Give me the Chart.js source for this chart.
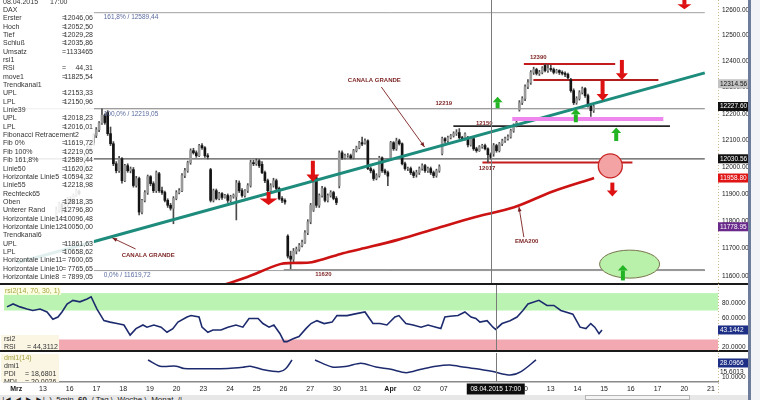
<!DOCTYPE html>
<html>
<head>
<meta charset="utf-8">
<script src="https://cdn.jsdelivr.net/npm/chart.js@4.4.1/dist/chart.umd.min.js"></script>
<style>
  html, body { margin: 0; padding: 0; background: #fff; }
  body { width: 760px; height: 400px; position: relative; overflow: hidden; font-family: "Liberation Sans", Arial, sans-serif; }
  canvas { position: absolute; left: 0; }
  #info { position: absolute; left: 0; top: 0; width: 94px; height: 283px; background: rgba(255,255,255,0.87); overflow: hidden; font-size: 7px; color: #333; }
  .row { position: absolute; left: 0; width: 94px; height: 8px; line-height: 8px; white-space: nowrap; }
  .row .n { position: absolute; left: 3px; }
  .row .e { position: absolute; left: 62px; }
  .row .v { position: absolute; right: 1px; }
  .tag { position: absolute; font-size: 7px; line-height: 8px; white-space: nowrap; color: #333; }
  .olive { color: #a3a340; }
  .cream { position: absolute; background: #fbf6e4; overflow: hidden; }
  #tabs { position: absolute; left: 0; top: 395px; width: 748px; height: 5px; background: #e7e7e7; overflow: hidden; font-size: 8px; line-height: 9px; color: #222; white-space: pre; }
  #scroll { position: absolute; left: 585px; top: 395px; width: 105px; height: 5px; background: #f4f4f4; border: 1px solid #b5b5b5; box-sizing: border-box; }
  #edge { position: absolute; left: 748px; top: 0; width: 3px; height: 400px; background: #6d7c9a; }
  #side { position: absolute; left: 751px; top: 0; width: 9px; height: 400px; background: #f1f3f7; }
</style>
</head>
<body>
<canvas id="main" width="760" height="284" style="top:0"></canvas>
<canvas id="rsi" width="760" height="68" style="top:284px"></canvas>
<canvas id="dmi" width="760" height="42" style="top:353px"></canvas>
<div id="info"></div>
<div class="tag olive" style="left:4px;top:287px;background:rgba(255,255,225,0.85);padding:0 1px">rsi2(14, 70, 30, 1)</div>
<div class="cream" style="left:1px;top:335px;width:58px;height:15px">
  <div class="tag" style="left:3px;top:0">rsi2</div>
  <div class="tag" style="left:3px;top:8px">RSI</div><div class="tag" style="left:26px;top:8px">= 44,3112</div>
</div>
<div class="cream" style="left:1px;top:354px;width:58px;height:28px">
  <div class="tag olive" style="left:3px;top:0">dmi1(14)</div>
  <div class="tag" style="left:3px;top:8px">dmi1</div>
  <div class="tag" style="left:3px;top:16px">PDI</div><div class="tag" style="left:24px;top:16px">= 18,6801</div>
  <div class="tag" style="left:3px;top:24px">MDI</div><div class="tag" style="left:24px;top:24px">= 20,0026</div>
</div>
<div id="tabs"> |◄ ◄ ► ►|  )  5min  <b>60</b>  / Tag \  Woche \  Monat  /|</div>
<div id="scroll"></div>
<div id="edge"></div>
<div id="side"></div>
<script>
Chart.defaults.font.family = '"Liberation Sans", Arial, sans-serif';
Chart.defaults.animation = false;

// ---- data ----
const dayLabels = ['Mrz','13','16','17','18','19','20','23','24','25','26','27','30','31','Apr','02','07','08','09','10','13','14','15','16','17','20','21'];
const candleDays = [1,2,3,4,5,6,7,8,9,10,11,12,13,14,15,16,17,18,19,20,21];
const priceTicks = [11600,11700,11800,11900,12000,12100,12200,12300,12400,12500,12600];

const opens = [
  11815,11840,11862,11835,11858,11880,11872,11895,11910,
  11960,11995,12040,12072,12090,12118,12140,12165,12195,
  12205,12125,12087,12012,11986,12031,11949,12005,11986,
  11990,11931,11957,11833,11876,11905,11964,11938,11912,
  11975,11912,11905,11876,11858,11847,11883,11905,11912,
  11968,11986,12016,12061,12053,12042,12080,12072,12042,
  11990,11876,11912,11883,11901,11887,11894,11876,11890,
  11890,11940,11912,11894,11912,11931,12016,12012,12023,
  12010,11979,11949,11912,11931,11949,11920,11883,11876,
  11745,11672,11661,11690,11697,11711,11722,11757,11797,
  11840,11960,11858,11894,11920,11876,11894,11905,11883,
  11930,12053,12034,12042,12042,12034,12061,12072,12091,
  12090,12098,11994,11986,11957,11968,12034,11986,11979,
  12030,12091,12068,12098,12087,12012,11994,11994,11979,
  11972,11979,11994,12005,11986,11994,11979,11968,11986,
  12050,12106,12098,12110,12117,12125,12129,12110,12106,
  12110,12083,12106,12068,12061,12076,12080,12068,12046.06,
  12050,12080,12061,12087,12098,12106,12113,12136,12155,
  12215,12242,12258,12303,12319,12358,12369,12354,12358,
  12385,12365,12373,12369,12358,12365,12358,12354,12350,
  12330,12288,12242,12258,12281,12296,12269,12231,12212
];
const highs = [
  11852,11870,11866,11862,11888,11890,11900,11918,11915,
  12005,12048,12080,12098,12125,12148,12170,12219,12200,
  12212,12150,12095,12020,12040,12035,12010,12012,12000,
  11998,11965,11962,11880,11912,11970,11968,11945,11985,
  11980,11925,11910,11882,11865,11890,11912,11920,11975,
  11995,12022,12068,12070,12060,12085,12088,12076,12050,
  11995,11918,11918,11906,11905,11898,11900,11895,11900,
  11950,11948,11920,11916,11938,12025,12025,12030,12028,
  12020,11985,11955,11938,11958,11955,11925,11890,11882,
  11750,11690,11700,11705,11718,11730,11765,11805,11865,
  11965,11966,11900,11928,11925,11900,11912,11910,11890,
  12060,12060,12048,12050,12048,12066,12078,12096,12112,
  12105,12102,12000,11992,11975,12040,12038,11992,11985,
  12096,12095,12108,12104,12090,12018,12000,12000,11985,
  11988,12000,12012,12010,12000,12000,11985,11992,12008,
  12112,12110,12116,12122,12132,12140,12144,12115,12128,
  12115,12110,12112,12074,12080,12085,12086,12072,12052.5,
  12088,12085,12092,12104,12112,12120,12142,12162,12180,
  12250,12265,12310,12330,12365,12378,12374,12366,12380,
  12390,12388,12386,12375,12370,12368,12364,12360,12355,
  12335,12295,12265,12288,12302,12300,12275,12240,12232
];
const lows = [
  11800,11832,11828,11830,11850,11865,11868,11890,11896,
  11950,11985,12030,12062,12082,12110,12132,12160,12160,
  12118,12080,12005,11978,11980,11940,11945,11980,11978,
  11925,11925,11822,11826,11870,11898,11930,11905,11905,
  11905,11898,11870,11850,11840,11790,11878,11900,11908,
  11960,11980,12010,12048,12036,12038,12066,12036,12030,
  11870,11870,11878,11878,11880,11884,11868,11870,11884,
  11804,11905,11888,11888,11905,11925,12005,12006,11998,
  11975,11942,11905,11905,11925,11915,11878,11868,11862,
  11665,11626,11650,11680,11690,11705,11718,11750,11790,
  11835,11850,11850,11888,11870,11870,11888,11878,11860,
  11922,12028,12030,12036,12030,12030,12056,12068,12080,
  12085,11990,11978,11950,11952,11962,11980,11972,11930,
  12025,12062,12062,12082,12008,11988,11986,11972,11960,
  11962,11972,11988,11980,11980,11972,11960,11962,11980,
  12045,12090,12092,12105,12112,12118,12105,12098,12100,
  12075,12078,12062,12055,12058,12070,12064,12017,12029.28,
  12040,12055,12056,12080,12092,12100,12108,12130,12150,
  12210,12235,12250,12296,12312,12350,12348,12346,12352,
  12360,12358,12362,12352,12355,12350,12348,12342,12332,
  12282,12235,12236,12252,12275,12262,12225,12190,12205
];
const closes = [
  11840,11862,11835,11858,11880,11872,11895,11910,11901,
  11995,12040,12072,12090,12118,12140,12165,12195,12167,
  12125,12087,12012,11986,12031,11949,12005,11986,11993,
  11931,11957,11833,11876,11905,11964,11938,11912,11979,
  11912,11905,11876,11858,11847,11883,11905,11912,11968,
  11986,12016,12061,12053,12042,12080,12072,12042,12038,
  11876,11912,11883,11901,11887,11894,11876,11890,11895,
  11940,11912,11894,11912,11931,12016,12012,12023,12005,
  11979,11949,11912,11931,11949,11920,11883,11876,11870,
  11672,11661,11690,11697,11711,11722,11757,11797,11858,
  11960,11858,11894,11920,11876,11894,11905,11883,11868,
  12053,12034,12042,12042,12034,12061,12072,12091,12086,
  12098,11994,11986,11957,11968,12034,11986,11979,11966,
  12091,12068,12098,12087,12012,11994,11994,11979,11968,
  11979,11994,12005,11986,11994,11979,11968,11986,12001,
  12106,12098,12110,12117,12125,12129,12110,12106,12123,
  12083,12106,12068,12061,12076,12080,12068,12046.06,12035.86,
  12080,12061,12087,12098,12106,12113,12136,12155,12167,
  12242,12258,12303,12319,12358,12369,12354,12358,12375,
  12365,12373,12369,12358,12365,12358,12354,12350,12338,
  12288,12242,12258,12281,12296,12269,12231,12212,12227.6
];

// EMA200 (day index, value)
const emaT = [7.06, 8.37, 9.76, 10.24, 10.99, 12.11, 12.86, 14.36, 15.86, 17.35, 18.85, 20.35, 21.96];
const emaV = [11553, 11593, 11643, 11647, 11650, 11680, 11697, 11732, 11774, 11815, 11851, 11909, 11959];

// trend channel "CANALA GRANDE" ends
const trendT = [-0.46, 26.262];
const trendV = [11648, 12356];

// horizontal levels
const levelPrice = [12589.44, 12219.05, 12030.56, 11619.72, 11620.62, 12153.33, 12017.12, 12390, 12329, 12180];
const levelFrom  = [1.86, -0.46, -0.46, 1.86, 9.9, 16.49, 17.62, 19.23, 19.6, 18.78];
const levelTo    = [26.262, 26.262, 26.262, 26.262, 26.262, 24.91, 23.45, 22.78, 24.46, 24.65];

const fibPct  = ['0,0%', '100,0%', '161,8%'];
const fibVals = [11619.72, 12219.05, 12589.44];

// RSI(14)
const rsiT = [-0.35,-0.12,0.14,0.40,0.62,0.89,1.15,1.37,1.56,1.71,1.90,2.12,2.38,2.65,2.80,3.02,3.28,3.51,3.77,4.03,4.26,4.48,4.74,4.89,5.15,5.42,5.64,5.86,6.05,6.39,6.54,6.84,6.95,7.17,7.36,7.66,7.92,8.22,8.48,8.71,9.05,9.23,9.46,9.64,9.87,10.02,10.13,10.36,10.58,10.84,11.03,11.25,11.52,11.82,12.00,12.38,12.64,13.05,13.35,13.61,13.87,14.17,14.32,14.58,14.85,15.15,15.41,15.71,15.89,16.04,16.23,16.53,16.79,17.02,17.20,17.35,17.62,17.84,17.94,18.18,18.48,18.74,18.96,19.15,19.56,19.86,20.12,20.38,20.83,21.10,21.32,21.50,21.65,21.81,21.92];
const rsiV = [75,79,75,72,70,72,68,58,61,68,79,84,82,86,89,72,56,54,52,50,36,45,50,47,50,47,40,45,54,61,63,61,47,40,43,43,47,50,47,59,59,52,47,50,38,27,27,31,34,45,52,56,52,54,63,63,65,68,52,52,50,61,63,52,50,47,50,47,45,61,62,63,68,61,59,54,56,47,44,52,56,61,70,79,84,77,77,70,65,47,45,52,47,38,43.14];
const rsiBands = [70, 94, 30];

// DMI
const dmiT = [4.93,5.38,5.98,6.28,7.92,8.48,8.75,9.31,9.87,10.09,10.32,10.75,11.18,11.82,12.38,12.90,13.46,14.02,14.59,15.15,15.71,16.23,16.79,17.35,17.84,18.48,18.89,19.45];
const dmiV = [32,24,24,21,21,22.5,24,19,17,21,32,null,32,23,24,27.7,23,20,15.6,20,24,25.5,22.5,20,17,12.6,17,32];

// right axis value markers
const mainMarks = [12314.56, 12227.60, 12030.56, 11958.80, 11778.95];
const rsiMarks = [43.1442];
const dmiMarks = [28.0966, 15.6013];

// drawn annotations (day index, price)
const arrowT = [9.31, 11.03, 23.04, 22.29, 22.67, 25.47, 18.21, 21.25, 22.82, 23.08];
const arrowP = [11859, 11945, 12329, 12250, 11890, 12603, 12265, 12219, 12148, 11640];
const arrowUp = [false, false, false, false, false, false, true, true, true, true];
const circleT = 22.59, circleP = 12004;
const ellipseT = 23.34, ellipseP = 11643;
const noteText = ['CANALA GRANDE', 'CANALA GRANDE', '12219', '12150', '12017', '12390', '11620', 'EMA200'];
const noteT = [13.42, 4.63, 16.12, 17.69, 17.80, 19.79, 11.44, 19.34];
const noteP = [12329, 11675, 12238, 12164, 11994, 12417, 11607, 11725];
const pointerFrom = [[13.69, 12302], [4.14, 11698], [19.23, 11741]];
const pointerTo = [[15.37, 12075], [3.24, 11738], [19.04, 11852]];

const infoRows = [['DAX',''],['Erster','12046,06'],['Hoch','12052,50'],['Tief','12029,28'],['Schluß','12035,86'],['Umsatz','1133465'],['rsi1',''],['RSI','44,31'],['move1','11825,54'],['Trendkanal1',''],['UPL','12153,33'],['LPL','12150,96'],['Linie39',''],['UPL','12018,23'],['LPL','12016,01'],['Fibonacci Retracement2',''],['Fib 0%','11619,72'],['Fib 100%','12219,05'],['Fib 161,8%','12589,44'],['Linie50','11620,62'],['Horizontale Linie5','10594,32'],['Linie55','12218,98'],['Rechteck65',''],['Oben','12818,35'],['Unterer Rand','12796,80'],['Horizontale Linie14','10096,48'],['Horizontale Linie12','10050,00'],['Trendkanal6',''],['UPL','11861,63'],['LPL','10658,62'],['Horizontale Linie11','7600,65'],['Horizontale Linie10','7765,65'],['Horizontale Linie8','7899,05']];

// ---- styles ----
const X_MIN = -0.46, X_MAX = 26.262;
const crossT = 17 + 8.5 / 9;
const FONT = '"Liberation Sans", Arial, sans-serif';
const levelColor = ['#a0a0a0', '#7d7d7d', '#555555', '#a0a0a0', '#333333', '#262626', '#c41c1c', '#c41c1c', '#b51d1d', '#ee86ee'];
const levelWidth = [1, 1.2, 1.2, 1, 1.5, 1.6, 2, 2, 2, 4];
const mainMarkBg = ['#c4c4c4', '#111111', '#111111', '#e01414', '#6a2a8c'];
const mainMarkFg = ['#111111', '#ffffff', '#ffffff', '#ffffff', '#ffffff'];
const arrowLen = [13, 21, 20, 20, 14, 10, 11, 13, 13, 15];
const arrowHead = [18, 13, 12, 12, 11, 14, 10, 10, 10, 10];

// info box rows
const info = document.getElementById('info');
const rowH = 8.345;
const addRow = (i, html) => {
  const d = document.createElement('div');
  d.className = 'row';
  d.style.top = (1.6 + i * rowH - 4) + 'px';
  d.innerHTML = html;
  info.appendChild(d);
};
addRow(0, '<span class="n">08.04.2015</span><span class="n" style="left:50px">17:00</span>');
infoRows.forEach((r, i) => {
  addRow(i + 1, '<span class="n">' + r[0] + '</span>' + (r[1] ? '<span class="e">=</span><span class="v">' + r[1] + '</span>' : ''));
});

// ---- helpers ----
const de = v => v.toFixed(2).replace('.', ',');

function xScale(show) {
  return {
    type: 'linear', min: X_MIN, max: X_MAX, display: show,
    grid: { display: false, drawTicks: false },
    border: { display: true, color: '#8a8a8a', width: 1.5 },
    afterBuildTicks: s => { s.ticks = dayLabels.map((_, i) => ({ value: i })); },
    afterFit: s => { s.height = show ? 13 : 0; s.paddingLeft = 0; s.paddingRight = 0; },
    ticks: {
      autoSkip: false, maxRotation: 0, padding: 3, color: '#1a1a1a',
      font: c => ({ size: 7, weight: /[a-z]/i.test(dayLabels[c.index] || '') ? 'bold' : 'normal' }),
      callback: v => dayLabels[v]
    }
  };
}

function yScale(type, min, max, ticks, digits) {
  return {
    type, position: 'right', min, max,
    grid: { display: false, drawTicks: false },
    border: { display: false },
    afterBuildTicks: s => { s.ticks = ticks.map(v => ({ value: v })); },
    afterFit: s => { s.width = 42; s.paddingTop = 0; s.paddingBottom = 0; },
    ticks: { autoSkip: false, padding: 4, color: '#1a1a1a', font: { size: 6.5 }, callback: v => Number(v).toFixed(digits) }
  };
}

function frame(marks, bgs, fgs, digits) {
  return {
    id: 'frame',
    afterDatasetsDraw(chart) {
      const { ctx, chartArea: a, scales: { x } } = chart;
      const cx = Math.round(x.getPixelForValue(crossT)) + 0.5;
      ctx.save();
      ctx.strokeStyle = '#7a7a7a';
      ctx.lineWidth = 1;
      ctx.beginPath(); ctx.moveTo(cx, 0); ctx.lineTo(cx, a.bottom); ctx.stroke();
      ctx.restore();
    },
    afterDraw(chart) {
      const { ctx, chartArea: a, scales: { y } } = chart;
      ctx.save();
      ctx.strokeStyle = '#cbb98a';
      ctx.setLineDash([1, 2]);
      ctx.beginPath(); ctx.moveTo(a.right + 0.5, 0); ctx.lineTo(a.right + 0.5, chart.height); ctx.stroke();
      ctx.setLineDash([]);
      ctx.font = '6.5px ' + FONT;
      ctx.textBaseline = 'middle';
      marks.forEach((v, i) => {
        const py = y.getPixelForValue(v);
        if (bgs[i]) { ctx.fillStyle = bgs[i]; ctx.fillRect(a.right, py - 4.5, 30, 9); }
        ctx.fillStyle = fgs[i];
        ctx.fillText(v.toFixed(digits), a.right + 2, py);
      });
      ctx.restore();
    }
  };
}

function drawArrow(ctx, x, tip, up, len, head, color) {
  const dir = up ? -1 : 1;
  const hh = Math.min(len * 0.5, head * 0.55);
  const base = tip - dir * hh, tail = tip - dir * len;
  ctx.fillStyle = color;
  ctx.fillRect(x - 2, Math.min(base, tail), 4, Math.abs(base - tail) + 0.5);
  ctx.beginPath();
  ctx.moveTo(x - head / 2, base); ctx.lineTo(x + head / 2, base); ctx.lineTo(x, tip);
  ctx.closePath(); ctx.fill();
}

const mainNotes = {
  id: 'notes',
  afterDatasetsDraw(chart) {
    const { ctx, chartArea: a, scales: { x, y } } = chart;
    const P = (t, p) => [x.getPixelForValue(t), y.getPixelForValue(p)];
    ctx.save();
    ctx.beginPath(); ctx.rect(a.left, a.top, a.right - a.left, a.bottom - a.top); ctx.clip();

    ctx.font = '6.5px ' + FONT;
    ctx.fillStyle = '#5a6b9e';
    ctx.textBaseline = 'middle';
    fibPct.forEach((s, i) => {
      const [px, py] = P(2.9, fibVals[i]);
      ctx.fillText(s + ' / ' + de(fibVals[i]), px, py + 5);
    });

    let [cx, cy] = P(circleT, circleP);
    ctx.beginPath(); ctx.arc(cx, cy, 12, 0, Math.PI * 2);
    ctx.fillStyle = '#f3a3a3'; ctx.fill();
    ctx.strokeStyle = '#c92323'; ctx.lineWidth = 1.3; ctx.stroke();

    [cx, cy] = P(ellipseT, ellipseP);
    ctx.beginPath(); ctx.ellipse(cx, cy, 30, 14, 0, 0, Math.PI * 2);
    ctx.fillStyle = '#b9f0aa'; ctx.fill();
    ctx.strokeStyle = '#77744a'; ctx.lineWidth = 1; ctx.stroke();

    arrowT.forEach((t, i) => {
      const [px, py] = P(t, arrowP[i]);
      drawArrow(ctx, px, py, arrowUp[i], arrowLen[i], arrowHead[i], arrowUp[i] ? '#23b423' : '#dd1111');
    });

    ctx.strokeStyle = '#7b1f1f';
    ctx.fillStyle = '#7b1f1f';
    ctx.lineWidth = 0.9;
    pointerFrom.forEach((f, i) => {
      const [x1, y1] = P(f[0], f[1]);
      const [x2, y2] = P(pointerTo[i][0], pointerTo[i][1]);
      ctx.beginPath(); ctx.moveTo(x1, y1); ctx.lineTo(x2, y2); ctx.stroke();
      const ang = Math.atan2(y2 - y1, x2 - x1);
      ctx.beginPath();
      ctx.moveTo(x2, y2);
      ctx.lineTo(x2 - 5 * Math.cos(ang - 0.4), y2 - 5 * Math.sin(ang - 0.4));
      ctx.lineTo(x2 - 5 * Math.cos(ang + 0.4), y2 - 5 * Math.sin(ang + 0.4));
      ctx.closePath(); ctx.fill();
    });

    ctx.font = 'bold 6px ' + FONT;
    ctx.textAlign = 'center';
    noteText.forEach((s, i) => {
      const [px, py] = P(noteT[i], noteP[i]);
      ctx.fillText(s, px, py);
    });
    ctx.restore();
  },
  afterDraw(chart) {
    const { ctx, chartArea: a } = chart;
    ctx.fillStyle = '#1a1a1a';
    ctx.fillRect(0, a.bottom, 748, 1.5);
  }
};

const base = (padding) => ({
  responsive: false,
  animation: false,
  events: [],
  layout: { padding },
  plugins: { legend: { display: false }, tooltip: { enabled: false } }
});

// ---- main price chart ----
const candleT = [];
candleDays.forEach(d => { for (let h = 0; h < 9; h++) candleT.push(d + (h + 0.5) / 9); });

const levelSets = levelPrice.map((p, i) => ({
  type: 'line', order: i === levelPrice.length - 1 ? 0 : 3,
  data: [{ x: levelFrom[i], y: p }, { x: levelTo[i], y: p }],
  borderColor: levelColor[i], borderWidth: levelWidth[i], pointRadius: 0
}));

new Chart(document.getElementById('main'), {
  type: 'bar',
  data: {
    datasets: [
      ...levelSets,
      {
        order: 2, grouped: false, barThickness: 1,
        data: candleT.map((t, i) => ({ x: t, y: [lows[i], highs[i]] })),
        backgroundColor: '#4a4a4a'
      },
      {
        order: 1, grouped: false, barThickness: 2,
        data: candleT.map((t, i) => ({ x: t, y: [opens[i], closes[i]] })),
        backgroundColor: candleT.map((t, i) => closes[i] >= opens[i] ? '#9a9a9a' : '#141414')
      },
      {
        type: 'line', order: 0,
        data: trendT.map((t, i) => ({ x: t, y: trendV[i] })),
        borderColor: '#1d8c7c', borderWidth: 3, pointRadius: 0
      },
      {
        type: 'line', order: 0,
        data: emaT.map((t, i) => ({ x: t, y: emaV[i] })),
        borderColor: '#cc1212', borderWidth: 2.6, tension: 0.35, pointRadius: 0
      }
    ]
  },
  options: {
    ...base({ left: 4, top: 0, right: 0, bottom: 1 }),
    scales: {
      x: xScale(false),
      y: yScale('logarithmic', 11574.9, 12639.2, priceTicks, 2)
    }
  },
  plugins: [mainNotes, frame(mainMarks, mainMarkBg, mainMarkFg, 2)]
});

// ---- RSI panel ----
const rsiPanel = {
  id: 'rsiPanel',
  beforeDatasetsDraw(chart) {
    const { ctx, chartArea: a, scales: { y } } = chart;
    const g1 = y.getPixelForValue(rsiBands[1]), g2 = y.getPixelForValue(rsiBands[0]);
    const r1 = y.getPixelForValue(rsiBands[2]);
    ctx.fillStyle = '#baf3b2';
    ctx.fillRect(a.left, g1, a.right - a.left, g2 - g1);
    ctx.fillStyle = '#f3a9b2';
    ctx.fillRect(a.left, r1, a.right - a.left, a.bottom - r1);
  },
  afterDraw(chart) {
    const { ctx, chartArea: a } = chart;
    ctx.fillStyle = '#1a1a1a';
    ctx.fillRect(0, 0, 748, 1);
    ctx.fillRect(0, a.bottom, 748, 2);
  }
};

new Chart(document.getElementById('rsi'), {
  type: 'line',
  data: {
    datasets: [{
      data: rsiT.map((t, i) => ({ x: t, y: rsiV[i] })),
      borderColor: '#1d2b6e', borderWidth: 1.6, pointRadius: 0, tension: 0
    }]
  },
  options: {
    ...base({ left: 4, top: 1, right: 0, bottom: 2 }),
    scales: {
      x: xScale(false),
      y: yScale('linear', 15.5, 105.2, [20, 40, 60, 80], 4)
    }
  },
  plugins: [rsiPanel, frame(rsiMarks, ['#1e2f86'], ['#ffffff'], 4)]
});

// ---- DMI panel + time axis ----
const timeBox = {
  id: 'timeBox',
  afterDraw(chart) {
    const { ctx, chartArea: a, scales: { x } } = chart;
    const cx = x.getPixelForValue(crossT);
    ctx.save();
    ctx.fillStyle = '#0d0d0d';
    ctx.fillRect(cx - 29, a.bottom + 1.5, 58, 11);
    ctx.fillStyle = '#ffffff';
    ctx.font = '6.5px ' + FONT;
    ctx.textAlign = 'center';
    ctx.textBaseline = 'middle';
    ctx.fillText('08.04.2015 17:00', cx, a.bottom + 7);
    ctx.restore();
  }
};

new Chart(document.getElementById('dmi'), {
  type: 'line',
  data: {
    datasets: [{
      data: dmiT.map((t, i) => ({ x: t, y: dmiV[i] })),
      borderColor: '#1d2b6e', borderWidth: 1.5, pointRadius: 0, spanGaps: false, tension: 0.3
    }]
  },
  options: {
    ...base({ left: 4, top: 1, right: 0, bottom: 0 }),
    scales: {
      x: xScale(true),
      y: yScale('linear', 3.54, 39.7, [10], 4)
    }
  },
  plugins: [frame(dmiMarks, ['#1e2f86', null], ['#ffffff', '#1a1a1a'], 4), timeBox]
});
</script>
</body>
</html>
